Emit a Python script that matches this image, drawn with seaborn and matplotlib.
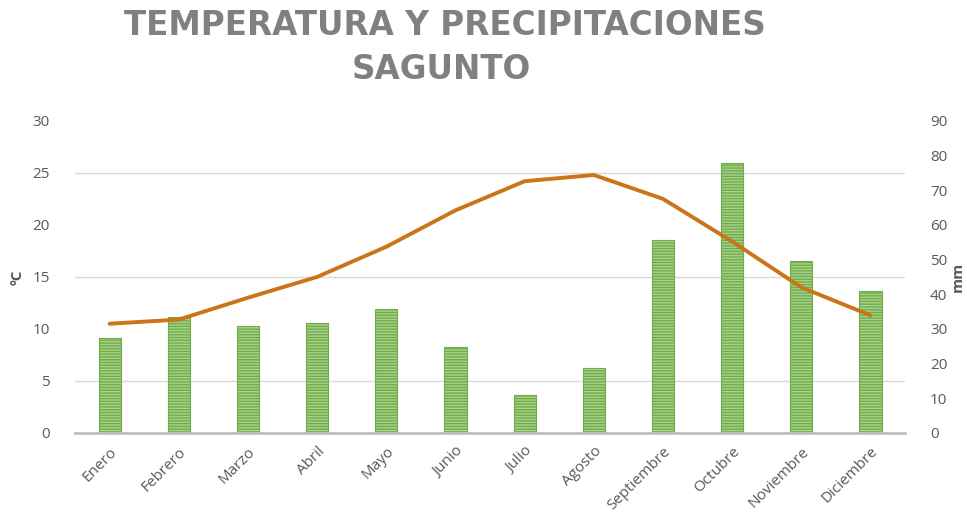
import matplotlib
matplotlib.use("Agg")
import numpy as np
import pandas as pd
import matplotlib.pyplot as plt
import seaborn as sns
from matplotlib.ticker import MultipleLocator

# Datos climáticos de Sagunto
meses = ["Enero", "Febrero", "Marzo", "Abril", "Mayo", "Junio", "Julio",
         "Agosto", "Septiembre", "Octubre", "Noviembre", "Diciembre"]
temperatura = [10.5, 10.9, 13.0, 15.0, 17.9, 21.4, 24.2, 24.8, 22.5, 18.4, 14.0, 11.3]
precipitacion = [27.4, 33.5, 30.9, 31.7, 35.8, 24.8, 11.0, 18.7, 55.7, 77.9, 49.6, 41.0]
titulo = ["TEMPERATURA Y PRECIPITACIONES", "SAGUNTO"]

df = pd.DataFrame({"mes": meses, "temp": temperatura, "prec": precipitacion,
                   "pos": np.arange(len(meses))})

sns.set_theme(style="white")
plt.rcParams["font.family"] = ["Open Sans", "DejaVu Sans"]
plt.rcParams["hatch.linewidth"] = 1.0

gris = "#595959"

fig = plt.figure(figsize=(9.67, 5.21), dpi=100)
ax = fig.add_axes([0.0776, 0.169, 0.8584, 0.599])
ax2 = ax.twinx()

# Precipitaciones (barras, eje derecho)
sns.barplot(data=df, x="pos", y="prec", ax=ax2, color="#a9d18e", saturation=1,
            width=0.32, edgecolor="#70ad47", linewidth=0.8, hatch="------")
ax2.set_ylim(0, 90)
ax2.yaxis.set_major_locator(MultipleLocator(10))
ax2.yaxis.set_minor_locator(MultipleLocator(15))
ax2.grid(which="minor", axis="y", color="#d9d9d9", linewidth=1)
ax2.grid(which="major", visible=False)
ax2.set_axisbelow(True)
ax2.tick_params(axis="y", which="both", length=0, labelsize=11, labelcolor=gris, pad=18)
ax2.set_ylabel("mm", fontsize=11, color=gris, fontweight="bold", labelpad=2)

# Temperatura (línea, eje izquierdo)
ax.set_zorder(ax2.get_zorder() + 1)
ax.patch.set_visible(False)
sns.lineplot(data=df, x="pos", y="temp", ax=ax, color="#cc7418", linewidth=2.8)
ax.set_ylim(0, 30)
ax.yaxis.set_major_locator(MultipleLocator(5))
ax.tick_params(axis="y", length=0, labelsize=11, labelcolor=gris, pad=18)
ax.set_ylabel("ºC", fontsize=11, color=gris, fontweight="bold", labelpad=6)

ax.set_xlim(-0.5, 11.5)
ax.set_xticks(df["pos"])
ax.set_xticklabels(meses, rotation=45, ha="right", rotation_mode="anchor",
                   fontsize=11, color=gris)
ax.tick_params(axis="x", length=0, pad=8)
ax.set_xlabel("")
ax2.set_xlabel("")

for a in (ax, ax2):
    for s in ("top", "left", "right", "bottom"):
        a.spines[s].set_visible(False)
ax2.spines["bottom"].set_visible(True)
ax2.spines["bottom"].set_color("#bfbfbf")
ax2.spines["bottom"].set_linewidth(2)

fig.text(0.460, 0.952, titulo[0], ha="center", va="center", fontsize=23.5,
         fontweight="bold", color="#808080", family="DejaVu Sans")
fig.text(0.456, 0.866, titulo[1], ha="center", va="center", fontsize=23.5,
         fontweight="bold", color="#808080", family="DejaVu Sans")

fig.savefig("out.png", dpi=100, facecolor="white")
